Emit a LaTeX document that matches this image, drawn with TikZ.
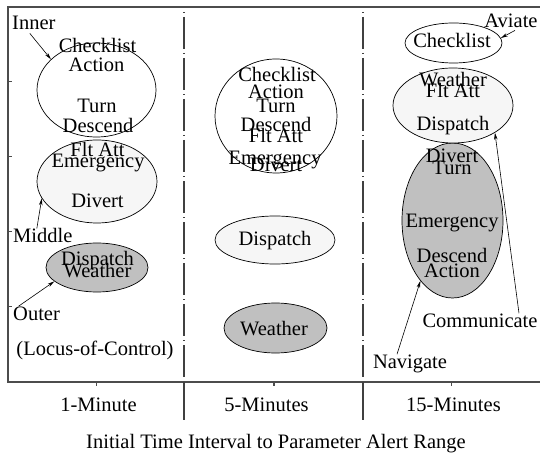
\documentclass[tikz,border=0pt]{standalone}
\usepackage{fontspec}
\setmainfont{Liberation Serif}
\usetikzlibrary{shapes.geometric,arrows.meta}
\definecolor{lightfill}{RGB}{246,246,246}
\definecolor{darkfill}{RGB}{192,192,192}
\begin{document}
\begin{tikzpicture}[x=1bp,y=-1bp,
  every node/.style={font=\fontsize{20.5bp}{22bp}\selectfont, inner sep=0pt},
  lbl/.style={anchor=base},
  lblw/.style={anchor=base west},
  oval/.style={ellipse, draw, line width=0.7bp, inner sep=0pt},
  lite/.style={oval, fill=lightfill},
  dark/.style={oval, fill=darkfill},
  axis/.style={draw=black!70, line width=1.2bp},
  divider/.style={draw=black!75, line width=1.2bp},
  ptr/.style={-{Stealth[length=7bp,width=3.5bp]}, line width=0.6bp}]
\useasboundingbox (0,0) rectangle (540,453);
% frame
\draw[axis] (540,7) -- (8,7) -- (8,382) -- (540,382);
\foreach \y in {81.8,156.6,231.4,306.2} \draw[axis] (8,\y) -- (12,\y);
\foreach \x in {96.7,274,451.3} \draw[axis] (\x,382) -- (\x,386);
\foreach \x in {184,363} {
  \draw[divider, dash pattern=on 1bp off 4bp on 32bp off 4bp] (\x,12) -- (\x,381);
  \draw[divider] (\x,382) -- (\x,420);
}
% ellipses
\node[lite, minimum width=120bp, minimum height=83bp] (midE) at (97,181.5) {};
\node[oval, minimum width=119bp, minimum height=94bp] (innE) at (96.5,90) {};
\node[dark, minimum width=102bp, minimum height=49bp] (outE) at (97,267.5) {};
\node[oval, minimum width=122bp, minimum height=114bp] (c2big) at (276,116) {};
\node[lite, minimum width=120bp, minimum height=48bp] (c2disp) at (275,240) {};
\node[dark, minimum width=103bp, minimum height=50bp] (c2wx) at (275.5,328) {};
\node[dark, minimum width=101bp, minimum height=155bp] (c3dark) at (452.5,220.5) {};
\node[lite, minimum width=120bp, minimum height=75bp] (c3lite) at (453,105.5) {};
\node[oval, minimum width=97bp, minimum height=40bp] (c3check) at (453.5,43) {};
% column 1 texts
\node[lbl] (a1) at (97.5,53) {Checklist};
\node[lbl] (a2) at (96.5,72) {Action};
\node[lbl] (a3) at (97,113) {Turn};
\node[lbl] (a4) at (98,133) {Descend};
\node[lbl] (a5) at (97.5,157) {Flt Att};
\node[lbl] (a6) at (98,168) {Emergency};
\node[lbl] (a7) at (97.5,208) {Divert};
\node[lbl] (a8) at (97.5,266) {Dispatch};
\node[lbl] (a9) at (97.5,277) {Weather};
\node[lblw] (lInner) at (12,30) {Inner};
\node[lblw] (lMiddle) at (13,243) {Middle};
\node[lblw] (lOuter) at (13,320) {Outer};
\node[lbl] (lLocus) at (95,355) {(Locus-of-Control)};
% column 2 texts
\node[lbl] (b1) at (277,82) {Checklist};
\node[lbl] (b2) at (276,99) {Action};
\node[lbl] (b3) at (276,113) {Turn};
\node[lbl] (b4) at (276,132) {Descend};
\node[lbl] (b5) at (276,143) {Flt Att};
\node[lbl] (b6) at (275,165) {Emergency};
\node[lbl] (b7) at (276,172) {Divert};
\node[lbl] (b8) at (275,246) {Dispatch};
\node[lbl] (b9) at (274,335) {Weather};
% column 3 texts
\node[lbl] (d1) at (452,48) {Checklist};
\node[lbl] (d2) at (453,87) {Weather};
\node[lbl] (d3) at (453,98) {Flt Att};
\node[lbl] (d4) at (453,131) {Dispatch};
\node[lbl] (d5) at (452,163) {Divert};
\node[lbl] (d6) at (452,175) {Turn};
\node[lbl] (d7) at (452,228) {Emergency};
\node[lbl] (d8) at (452,263) {Descend};
\node[lbl] (d9) at (452,277) {Action};
\node[lbl] (lAviate) at (511,28) {Aviate};
\node[lbl] (lComm) at (480,327) {Communicate};
\node[lbl] (lNav) at (410,368) {Navigate};
% axis labels
\node[lbl] (t1) at (98.5,411) {1-Minute};
\node[lbl] (t2) at (266.5,411) {5-Minutes};
\node[lbl] (t3) at (453.5,411) {15-Minutes};
\node[lbl] (cap) at (276,448) {Initial Time Interval to Parameter Alert Range};
% pointers
\draw[ptr] ([xshift=-4bp,yshift=-3bp]lInner.south) -- (innE.146);
\draw[ptr] ([xshift=-6bp]lMiddle.north) -- (midE.197);
\draw[ptr] ([xshift=-18bp]lOuter.north) -- (outE.198);
\draw[ptr] ([xshift=4bp,yshift=-2bp]lAviate.south) -- (c3check.6);
\draw[ptr] ([xshift=39bp]lComm.north) -- (c3lite.327);
\draw[ptr] ([xshift=-13bp]lNav.north) -- (c3dark.242);
\end{tikzpicture}
\end{document}
